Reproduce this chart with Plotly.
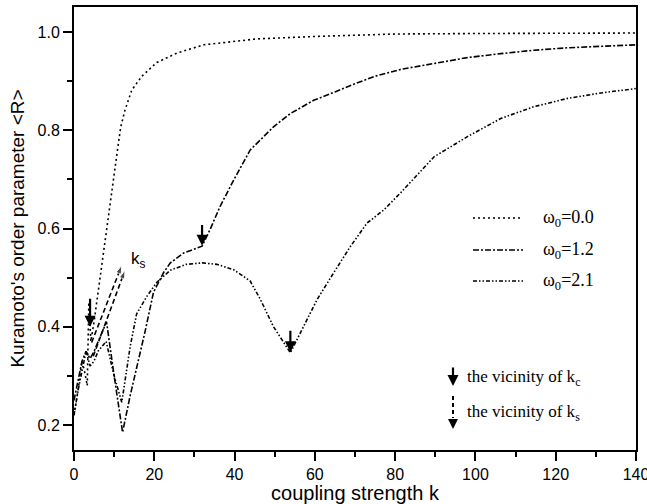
import plotly.graph_objects as go

# ---------------- data ----------------
k_w00 = [0, 1, 2, 2.6, 3.3, 3.7, 4.2, 5, 6, 7, 8, 9, 10, 11, 11.65, 12.7, 14.4, 16.9,
         20.6, 25.6, 32.3, 45.5, 60, 80, 100, 120, 140]
R_w00 = [0.22, 0.27, 0.33, 0.31, 0.28, 0.45, 0.37, 0.41, 0.47, 0.53, 0.60, 0.66, 0.72,
         0.77, 0.807, 0.841, 0.882, 0.910, 0.938, 0.957, 0.974, 0.986, 0.991, 0.996,
         0.997, 0.998, 0.998]

k_w12 = [0, 1, 2, 3, 4, 5, 6, 7, 8.1, 10, 12.1, 14, 16, 17.7, 19.8, 22.3, 24, 27.3, 31.9,
         33.9, 36.4, 39.8, 43.9, 49.7, 53.9, 59.7, 65, 70, 75, 81.4, 89.7, 98, 106.3,
         114.6, 123, 131.3, 140]
R_w12 = [0.25, 0.29, 0.33, 0.35, 0.335, 0.35, 0.37, 0.39, 0.41, 0.30, 0.185, 0.26, 0.33,
         0.39, 0.47, 0.51, 0.53, 0.55, 0.564, 0.598, 0.645, 0.699, 0.76, 0.807, 0.834,
         0.861, 0.878, 0.895, 0.91, 0.924, 0.936, 0.948, 0.956, 0.963, 0.968, 0.971,
         0.974]

k_w21 = [0, 1, 2, 3, 4, 5, 6, 8, 10, 11.9, 14, 15.6, 18, 20.6, 24, 28, 32, 35.6, 39.8,
         43.9, 46.4, 49.7, 53.9, 57.2, 60.6, 64.7, 68.9, 73, 77.2, 81.4, 89.7, 98,
         106.3, 114.6, 123, 131.3, 140]
R_w21 = [0.22, 0.27, 0.31, 0.35, 0.32, 0.33, 0.35, 0.37, 0.30, 0.246, 0.36, 0.426, 0.46,
         0.49, 0.515, 0.527, 0.53, 0.527, 0.516, 0.493, 0.456, 0.40, 0.347, 0.40,
         0.456, 0.51, 0.564, 0.611, 0.638, 0.673, 0.746, 0.787, 0.824, 0.848, 0.865,
         0.876, 0.885]

legend_names = ["ω<sub>0</sub>=0.0", "ω<sub>0</sub>=1.2", "ω<sub>0</sub>=2.1"]

# k_c markers (solid arrows): position k, tip R, tail R
kc_k = [4.0, 31.9, 53.9]
kc_tip = [0.40, 0.565, 0.348]
kc_tail = [0.46, 0.61, 0.395]

# k_s markers (dashed arrows): start and end points
ks_k0 = [4.4, 4.8]
ks_R0 = [0.368, 0.34]
ks_k1 = [11.9, 12.7]
ks_R1 = [0.525, 0.515]

# ---------------- figure ----------------
dashes = ["2px,3px", "6px,2px,2px,2px", "4px,2px,1.5px,2px,1.5px,2px"]
fig = go.Figure()
for kk, RR, d in zip([k_w00, k_w12, k_w21], [R_w00, R_w12, R_w21], dashes):
    fig.add_trace(go.Scatter(x=kk, y=RR, mode="lines", showlegend=False,
                             line=dict(color="black", width=1.6, dash=d)))

# dashed k_s arrows
for a, b, c, d in zip(ks_k0, ks_R0, ks_k1, ks_R1):
    fig.add_trace(go.Scatter(x=[a, c], y=[b, d], mode="lines+markers", showlegend=False,
                             line=dict(color="black", width=1.6, dash="5px,3px"),
                             marker=dict(symbol="arrow", angleref="previous",
                                         size=[0, 9], color="black")))

annotations = []
for k, tip, tail in zip(kc_k, kc_tip, kc_tail):
    annotations.append(dict(x=k, y=tip, ax=k, ay=tail, xref="x", yref="y",
                            axref="x", ayref="y", text="", showarrow=True,
                            arrowhead=2, arrowsize=1, arrowwidth=2.2, arrowcolor="black"))

annotations.append(dict(x=13.6, y=0.535, xref="x", yref="y", text="k<sub>s</sub>",
                        showarrow=False, xanchor="left",
                        font=dict(family="Liberation Sans", size=17, color="black")))

# manual legend (paper coordinates)
PL, PW, PT, PH = 74, 562, 7, 443
def px(x):
    return (x - PL) / PW
def py(y):
    return (PT + PH - y) / PH

shapes = []
for i, (name, d) in enumerate(zip(legend_names, dashes)):
    yy = [218, 250, 281][i]
    shapes.append(dict(type="line", xref="paper", yref="paper",
                       x0=px(473), x1=px(523), y0=py(yy), y1=py(yy),
                       line=dict(color="black", width=1.4, dash=d)))
    annotations.append(dict(x=px(541), y=py(yy), xref="paper", yref="paper",
                            text=name, showarrow=False, xanchor="left", yanchor="middle",
                            font=dict(family="Liberation Serif", size=18, color="black")))

# legend for arrows
annotations.append(dict(x=px(453), y=py(386), ax=0, ay=-20, xref="paper",
                        yref="paper", axref="pixel", ayref="pixel", text="",
                        showarrow=True, arrowhead=2, arrowsize=1, arrowwidth=2.2,
                        arrowcolor="black"))
shapes.append(dict(type="line", xref="paper", yref="paper", x0=px(453), x1=px(453),
                   y0=py(396), y1=py(418), line=dict(color="black", width=2, dash="4px,3px")))
annotations.append(dict(x=px(453), y=py(429), ax=0, ay=-11, xref="paper",
                        yref="paper", axref="pixel", ayref="pixel", text="",
                        showarrow=True, arrowhead=2, arrowsize=1, arrowwidth=2,
                        arrowcolor="black"))
annotations.append(dict(x=px(465), y=py(378), xref="paper", yref="paper",
                        text="the vicinity of k<sub>c</sub>", showarrow=False,
                        xanchor="left", yanchor="middle",
                        font=dict(family="Liberation Serif", size=17, color="black")))
annotations.append(dict(x=px(465), y=py(413), xref="paper", yref="paper",
                        text="the vicinity of k<sub>s</sub>", showarrow=False,
                        xanchor="left", yanchor="middle",
                        font=dict(family="Liberation Serif", size=17, color="black")))

axis_common = dict(showline=True, linecolor="black", linewidth=2, mirror=True,
                   ticks="outside", ticklen=9, tickwidth=2, tickcolor="black",
                   showgrid=False, zeroline=False, ticklabeloverflow="allow",
                   automargin=False,
                   tickfont=dict(family="Liberation Sans", size=16, color="black"))

fig.update_layout(
    width=647, height=504,
    margin=dict(l=PL, r=647 - PL - PW, t=PT, b=504 - PT - PH, autoexpand=False),
    paper_bgcolor="white", plot_bgcolor="white",
    shapes=shapes, annotations=annotations,
    xaxis=dict(range=[0, 140], dtick=20, tick0=0,
               minor=dict(dtick=10, ticks="outside", ticklen=5, tickwidth=1.5,
                          tickcolor="black"),
               title=dict(text="coupling strength k", standoff=0,
                          font=dict(family="Liberation Sans", size=20, color="black")),
               **axis_common),
    yaxis=dict(range=[0.149, 1.051], dtick=0.2, tick0=0, tickformat=".1f",
               minor=dict(dtick=0.1, ticks="outside", ticklen=5, tickwidth=1.5,
                          tickcolor="black"),
               title=dict(text="Kuramoto's order parameter <R>", standoff=8,
                          font=dict(family="Liberation Sans", size=19, color="black")),
               **axis_common),
)

fig.write_html("out.html")
